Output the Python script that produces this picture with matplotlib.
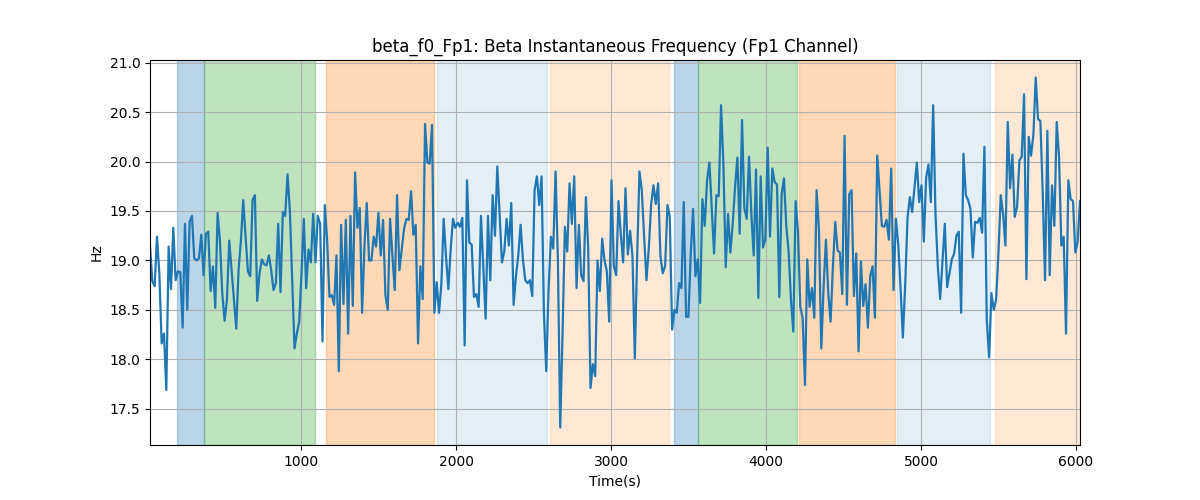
import numpy as np
import matplotlib
matplotlib.use("Agg")
import matplotlib.pyplot as plt

# instantaneous beta frequency, one value per sample
freq = [
    19.14, 18.79, 18.74, 19.24, 18.87, 18.16, 18.26, 17.69, 19.14, 18.71,
    19.33, 18.80, 18.89, 18.88, 18.32, 19.37, 18.50, 19.39, 19.45, 19.02,
    19.00, 19.02, 19.26, 18.85, 19.27, 19.29, 18.69, 18.94, 18.52, 19.48,
    19.20, 18.67, 18.39, 18.60, 19.20, 18.90, 18.60, 18.31, 18.90, 19.20,
    19.61, 19.24, 18.89, 18.84, 19.61, 19.66, 18.59, 18.87, 19.01, 18.96,
    18.95, 19.05, 18.90, 18.70, 18.77, 19.37, 18.68, 19.49,
    19.45, 19.87, 19.51, 18.80, 18.11, 18.26, 18.38, 18.87, 19.42, 18.72,
    19.11, 18.98, 19.47, 18.98, 19.45, 19.37, 18.18, 19.56, 19.20, 18.63,
    18.65, 18.55, 19.05, 17.88, 19.36, 18.56, 19.41, 18.26, 19.45, 18.54,
    19.89, 19.33, 19.53, 18.47, 19.14, 19.58, 19.00, 19.00, 19.24, 19.14,
    19.48, 19.05, 19.41, 18.65, 18.50, 19.42, 19.05, 18.70, 19.66, 18.90,
    19.11, 19.32, 19.42, 19.41, 19.70, 19.26, 19.36,
    18.16, 18.94, 18.61, 20.38, 19.99, 19.98, 20.37, 18.47, 18.78, 18.47,
    18.76, 19.42, 19.04, 18.71, 19.11, 19.42, 19.33, 19.38, 19.34, 19.43,
    18.14, 19.81, 19.18, 19.16, 18.63, 18.66, 18.53, 19.45, 18.94, 18.41,
    19.45, 18.80, 19.66, 19.25, 19.95, 19.46, 18.98, 19.09, 19.42, 19.15,
    19.58, 18.55, 18.84, 19.05, 19.36, 19.01, 18.80, 18.77, 18.80, 18.64,
    19.71, 19.85, 19.56, 19.85, 18.47, 17.88, 18.70, 19.24,
    19.12, 19.90, 19.00, 17.31, 18.26, 19.34, 19.09, 19.78, 19.37, 19.85,
    18.72, 19.36, 18.85, 18.79, 19.64, 19.12, 17.71, 17.95, 17.83, 19.00,
    18.69, 19.22, 19.00, 18.89, 18.38, 19.81, 18.94, 18.85, 19.60, 19.26,
    18.98, 19.73, 19.06, 19.30, 19.04, 18.01, 19.04, 19.90, 19.71, 19.24,
    18.80, 19.12, 19.56, 19.76, 19.57, 19.78, 19.04, 18.87, 18.94, 19.56,
    19.44, 18.30, 18.50, 18.47, 18.77, 18.72, 19.59,
    18.43, 18.43, 19.07, 19.52, 18.84, 19.01, 18.57, 19.62, 19.35, 19.81,
    19.99, 19.52, 19.07, 19.66, 19.65, 20.57, 19.98, 18.93, 19.47, 19.08,
    19.37, 19.74, 20.04, 19.27, 20.42, 19.53, 19.42, 20.05, 19.47, 19.05,
    19.92, 18.62, 19.85, 19.13, 19.21, 20.14, 19.24, 19.93, 19.79, 19.77,
    18.63, 19.67, 19.83, 19.34, 19.09, 18.60, 18.28, 19.60, 19.29, 18.53,
    18.42, 17.74, 19.01, 18.53, 18.72, 18.42, 19.71,
    19.31, 18.11, 18.73, 19.21, 18.67, 18.38, 18.95, 19.39, 19.10, 19.08,
    18.66, 20.26, 18.55, 19.67, 19.71, 18.64, 19.07, 18.08, 18.99, 18.54,
    18.76, 18.32, 18.84, 18.94, 18.42, 20.06, 19.71, 19.35, 19.34, 19.41,
    19.21, 19.93, 18.70, 19.42, 19.17, 18.73, 18.22, 18.75, 19.43, 19.64,
    19.49, 19.74, 19.99, 19.59, 19.76, 19.19, 19.84, 19.97, 19.59, 20.57,
    19.47, 18.94, 18.61, 18.99, 19.37, 18.73, 18.87,
    19.01, 19.07, 19.25, 19.29, 18.47, 20.08, 19.66, 19.61, 19.52, 19.03,
    19.39, 19.38, 19.43, 19.28, 20.15, 18.40, 18.02, 18.67, 18.50, 18.60,
    19.07, 19.66, 19.47, 19.15, 20.40, 19.73, 20.07, 19.44, 19.54, 20.01,
    20.05, 20.68, 18.81, 20.25, 20.06, 20.27, 20.85, 20.43, 20.41, 19.69,
    18.80, 20.31, 18.85, 19.76, 19.35, 20.40, 20.05, 19.15, 19.24, 18.26,
    19.81, 19.62, 19.60, 19.08, 19.19, 19.60,
]

# sampling: first and last time stamp (s)
t_start = 23
t_end = 6026

# shaded task segments
seg_start = [198, 372, 1161, 1873, 2604, 3406, 3561, 4214, 4842, 5476]
seg_end = [372, 1090, 1853, 2584, 3374, 3561, 4201, 4829, 5443, 6040]
seg_color = ["tab:blue", "tab:green", "tab:orange", "tab:blue", "tab:orange",
             "tab:blue", "tab:green", "tab:orange", "tab:blue", "tab:orange"]
seg_alpha = [0.3, 0.3, 0.3, 0.12, 0.17, 0.3, 0.3, 0.3, 0.12, 0.17]

t = np.linspace(t_start, t_end, len(freq))

fig, ax = plt.subplots(figsize=(12, 5), dpi=100)

for s, e, c, a in zip(seg_start, seg_end, seg_color, seg_alpha):
    ax.axvspan(s, e, color=c, alpha=a)

ax.plot(t, freq, color="tab:blue", linewidth=1.6)

ax.set_xlim(t_start, t_end)
ax.set_title("beta_f0_Fp1: Beta Instantaneous Frequency (Fp1 Channel)")
ax.set_xlabel("Time(s)")
ax.set_ylabel("Hz")
ax.grid(True)

plt.savefig("out.png")
